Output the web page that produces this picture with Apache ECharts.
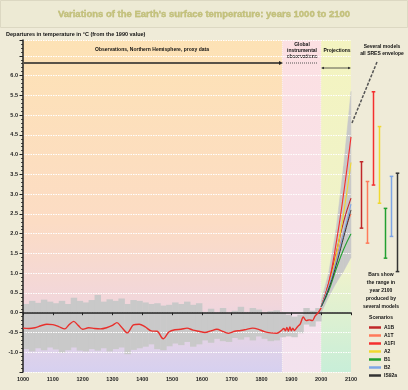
<!DOCTYPE html>
<html><head><meta charset="utf-8">
<script src="https://cdn.jsdelivr.net/npm/echarts@6/dist/echarts.min.js"></script>
<style>html,body{margin:0;padding:0;background:#efebd8}#c{width:408px;height:390px}</style>
</head><body><div id="c"></div>
<script>
// ---- data ----
const obsYears = [1000,1020,1040,1060,1080,1100,1120,1140,1155,1170,1185,1200,1220,1240,1260,1280,1300,1315,1330,1350,1370,1390,1410,1430,1450,1470,1490,1510,1530,1550,1570,1590,1610,1630,1650,1670,1690,1710,1730,1750,1770,1790,1810,1830,1850,1865,1875,1880,1885,1890,1895,1900,1905,1910,1920,1930,1940,1950,1960,1970,1980,1990,2000];
const obsTemp = [-0.39,-0.40,-0.38,-0.33,-0.29,-0.30,-0.35,-0.41,-0.30,-0.22,-0.32,-0.42,-0.38,-0.40,-0.41,-0.38,-0.32,-0.25,-0.36,-0.51,-0.31,-0.29,-0.36,-0.46,-0.47,-0.66,-0.48,-0.43,-0.42,-0.39,-0.44,-0.47,-0.50,-0.46,-0.42,-0.47,-0.52,-0.47,-0.45,-0.42,-0.39,-0.42,-0.48,-0.51,-0.52,-0.46,-0.40,-0.46,-0.37,-0.47,-0.36,-0.46,-0.39,-0.45,-0.36,-0.28,-0.11,-0.20,-0.18,-0.20,-0.08,0.00,0.12];

const uncYears = [1000,1020,1040,1060,1080,1100,1120,1140,1160,1180,1200,1220,1240,1260,1280,1300,1320,1340,1360,1380,1400,1420,1440,1460,1480,1500,1520,1540,1560,1580,1600,1620,1640,1660,1680,1700,1720,1740,1760,1780,1800,1820,1840,1860,1880,1900,1920,1940,1960,1980,2000];
const uncUpper = [0.22,0.30,0.25,0.33,0.28,0.24,0.30,0.22,0.38,0.30,0.26,0.32,0.45,0.28,0.34,0.30,0.36,0.22,0.32,0.30,0.26,0.22,0.24,0.18,0.20,0.26,0.22,0.28,0.20,0.24,0.02,0.10,0.00,0.12,-0.02,0.05,0.15,0.02,0.12,0.08,-0.02,0.04,0.06,0.00,-0.05,-0.10,-0.05,0.12,0.05,0.12,0.30];
const uncLower = [-0.92,-0.98,-0.90,-0.95,-0.88,-0.93,-1.02,-0.95,-0.88,-0.96,-0.98,-0.92,-0.96,-0.90,-0.98,-0.92,-0.88,-1.05,-0.94,-0.90,-0.86,-0.80,-0.92,-0.95,-0.85,-0.78,-0.82,-0.74,-0.86,-0.80,-0.70,-0.76,-0.66,-0.72,-0.74,-0.64,-0.68,-0.62,-0.70,-0.60,-0.66,-0.72,-0.70,-0.62,-0.60,-0.62,-0.52,-0.30,-0.35,-0.22,-0.05];

const projYears = [2000,2025,2050,2075,2100];
const envUpper = [0.30,1.00,2.10,3.70,5.60];
const envLower = [0.00,0.40,0.75,1.05,1.40];
const scenarioNames = ['A1B','A1T','A1FI','A2','B1','B2','IS92a'];
const scenarioColors = ['#c0282a','#ff7a5a','#f42f2f','#f0d830','#22a030','#7ea6e6','#333333'];
const scenA1B  = [0.15,0.75,1.50,2.30,2.90];
const scenA1T  = [0.15,0.70,1.35,2.00,2.50];
const scenA1FI = [0.15,0.75,1.75,3.00,4.45];
const scenA2   = [0.15,0.65,1.45,2.50,3.80];
const scenB1   = [0.15,0.55,1.10,1.60,2.00];
const scenB2   = [0.15,0.65,1.30,2.00,2.75];
const scenIS92a= [0.15,0.60,1.20,1.90,2.60];
const scenarioValues = [scenA1B,scenA1T,scenA1FI,scenA2,scenB1,scenB2,scenIS92a];

const barLow  = [2.14,1.76,3.23,2.77,1.38,1.93,1.04];
const barHigh = [3.82,3.32,5.59,4.71,2.64,3.45,3.53];

const bandFrom = [1000,1870,2000];
const bandTo   = [1870,2000,2100];

const xTicks = [1000,1100,1200,1300,1400,1500,1600,1700,1800,1900,2000,2100];

// ---- chart ----
const Y_MIN = -1.5, Y_MAX = 6.9;
const FONT = 'Liberation Sans';
const chart = echarts.init(document.getElementById('c'));
const zip = (xs, ys) => xs.map((x, i) => [x, ys[i]]);

const bandFills = [
  new echarts.graphic.LinearGradient(0,0,0,1,[{offset:0,color:'#fde2b5'},{offset:0.55,color:'#fcdcc4'},{offset:0.8,color:'#f1d6dc'},{offset:1,color:'#d6d0f0'}]),
  new echarts.graphic.LinearGradient(0,0,0,1,[{offset:0,color:'#fce0e2'},{offset:1,color:'#f3e2ee'}]),
  new echarts.graphic.LinearGradient(0,0,0,1,[{offset:0,color:'#f4f4c0'},{offset:0.7,color:'#eef2cc'},{offset:1,color:'#c8eed8'}])
];

const series = [];
series.push({
  type: 'custom', z: -10, silent: true,
  data: bandFrom.map((f, i) => [f, bandTo[i]]),
  encode: { x: [0, 1] },
  renderItem: (params, api) => {
    const p0 = api.coord([api.value(0), Y_MAX]);
    const p1 = api.coord([api.value(1), Y_MIN]);
    const children = [{ type: 'rect', shape: { x: p0[0], y: p0[1], width: p1[0] - p0[0], height: p1[1] - p0[1] }, style: { fill: bandFills[params.dataIndex] } }];
    if (params.dataIndex < 2) {
      children.push({ type: 'line', shape: { x1: p1[0], y1: p0[1], x2: p1[0], y2: p1[1] }, style: { stroke: '#ffffff', lineWidth: 1, lineDash: [1, 1] } });
    }
    return { type: 'group', children };
  }
});
// uncertainty band (observations): blocky steps
const uncData = uncYears.slice(0, -1).map((y, i) => [y, uncYears[i + 1], uncLower[i], uncUpper[i]]);
series.push({
  type: 'custom', z: -5, silent: true, data: uncData, encode: { x: [0, 1], y: [2, 3] },
  renderItem: (params, api) => {
    const a = api.coord([api.value(0), api.value(3)]);
    const b = api.coord([api.value(1), api.value(2)]);
    return { type: 'rect', shape: { x: a[0], y: a[1], width: b[0] - a[0] + 0.5, height: b[1] - a[1] }, style: { fill: '#c9c9c9' } };
  }
});
// projections envelope
const envData = projYears.slice(0, -1).map((y, i) => [y, projYears[i + 1], envLower[i], envUpper[i], envLower[i + 1], envUpper[i + 1]]);
series.push({
  type: 'custom', z: -5, silent: true, data: envData, encode: { x: [0, 1], y: [2, 3, 4, 5] },
  renderItem: (params, api) => {
    const x0 = api.value(0), x1 = api.value(1);
    const pts = [api.coord([x0, api.value(2)]), api.coord([x0, api.value(3)]), api.coord([x1, api.value(5)]), api.coord([x1, api.value(4)])];
    return { type: 'polygon', shape: { points: pts }, style: { fill: '#c9c9c9', stroke: '#c9c9c9', lineWidth: 0.5 } };
  }
});
// observed red line
series.push({ type: 'line', name: 'obs', symbol: 'none', smooth: 0.3, z: 3,
  lineStyle: { color: '#e8302c', width: 1.4 }, data: zip(obsYears, obsTemp) });
// scenarios
scenarioNames.forEach((n, i) => {
  series.push({ type: 'line', name: n, symbol: 'none', smooth: true, z: 4,
    lineStyle: { color: scenarioColors[i], width: n === 'IS92a' ? 1 : 1.1 },
    itemStyle: { color: scenarioColors[i] },
    data: zip(projYears, scenarioValues[i]) });
});
// bars of 2100 ranges
series.push({
  type: 'custom', xAxisIndex: 1, yAxisIndex: 1, z: 4, silent: true,
  data: scenarioNames.map((n, i) => [i, barLow[i], barHigh[i]]),
  encode: { x: 0, y: [1, 2] },
  renderItem: (params, api) => {
    const lo = api.coord([api.value(0), api.value(1)]);
    const hi = api.coord([api.value(0), api.value(2)]);
    const c = scenarioColors[params.dataIndex];
    const st = { stroke: c, lineWidth: 1.5 };
    return { type: 'group', children: [
      { type: 'line', shape: { x1: lo[0], y1: lo[1], x2: hi[0], y2: hi[1] }, style: st },
      { type: 'line', shape: { x1: lo[0] - 1.8, y1: lo[1], x2: lo[0] + 1.8, y2: lo[1] }, style: st },
      { type: 'line', shape: { x1: hi[0] - 1.8, y1: hi[1], x2: hi[0] + 1.8, y2: hi[1] }, style: st }
    ]};
  }
});

const smallTxt = (text, x, y, align) => ({ type: 'text', silent: true,
  style: { text, x, y, font: 'bold 5px ' + FONT, fill: '#111', align: align || 'center', verticalAlign: 'middle' } });

const option = {
  backgroundColor: '#efebd8',
  animation: false,
  grid: [
    { left: 23, right: 57, top: 40, bottom: 18 },
    { left: 358.5, width: 42, top: 40, bottom: 18 }
  ],
  xAxis: [
    { type: 'value', min: 1000, max: 2100, interval: 100,
      axisLine: { lineStyle: { color: '#222', width: 1.5 } },
      axisTick: { length: 2.5, lineStyle: { color: '#222' } },
      splitLine: { show: false },
      axisLabel: { fontFamily: FONT, fontSize: 5.5, fontWeight: 'bold', color: '#222', margin: 4,
        formatter: v => xTicks.indexOf(v) >= 0 ? String(v) : '' } },
    { type: 'category', gridIndex: 1, data: scenarioNames, show: false }
  ],
  yAxis: [
    { type: 'value', min: Y_MIN, max: Y_MAX, interval: 0.5,
      axisLine: { show: true, lineStyle: { color: '#222', width: 1.5 } },
      axisTick: { show: true, length: 3.5, lineStyle: { color: '#222', width: 1 } },
      minorTick: { show: true, splitNumber: 5, length: 2, lineStyle: { color: '#222', width: 0.8 } },
      splitLine: { show: true, lineStyle: { color: '#ffffff', width: 1, type: [1.5, 1] } },
      axisLabel: { fontFamily: FONT, fontSize: 5.5, fontWeight: 'bold', color: '#222', margin: 5,
        formatter: v => (v < -1.01 || v > 6.01) ? '' : v.toFixed(1) } },
    { type: 'value', gridIndex: 1, min: Y_MIN, max: Y_MAX, show: false }
  ],
  legend: {
    data: scenarioNames, orient: 'vertical', left: 369, top: 325,
    icon: 'rect', itemWidth: 12, itemHeight: 2.5, itemGap: 3,
    textStyle: { fontFamily: FONT, fontSize: 5, fontWeight: 'bold', color: '#111', lineHeight: 5, padding: [0,0,0,-2] },
    selectedMode: false, padding: 0
  },
  graphic: [
    { type: 'rect', silent: true, shape: { x: 0.5, y: 0.5, width: 407, height: 27 },
      style: { fill: '#edead4', stroke: '#dcd8c2', lineWidth: 1 } },
    { type: 'text', silent: true, style: { text: "Variations of the Earth's surface temperature: years 1000 to 2100",
      x: 204, y: 14, font: 'bold 9.5px ' + FONT, fill: '#c4c27a', stroke: '#a9a763', lineWidth: 0.3,
      align: 'center', verticalAlign: 'middle' } },
    { type: 'text', silent: true, style: { text: 'Departures in temperature in °C (from the 1990 value)',
      x: 6, y: 34, font: 'bold 5.5px ' + FONT, fill: '#111', align: 'left', verticalAlign: 'middle' } },
    smallTxt('Observations, Northern Hemisphere, proxy data', 152, 50),
    smallTxt('Global', 302, 45), smallTxt('instrumental', 302, 51), smallTxt('observations', 302, 57),
    smallTxt('Projections', 337, 51),
    smallTxt('Several models', 382, 47), smallTxt('all SRES envelope', 382, 53.5),
    smallTxt('Bars show', 381, 275), smallTxt('the range in', 381, 283), smallTxt('year 2100', 381, 291),
    smallTxt('produced by', 381, 299), smallTxt('several models', 381, 307),
    smallTxt('Scenarios', 381, 318),
    { type: 'line', silent: true, shape: { x1: 24, y1: 63, x2: 281, y2: 63 }, style: { stroke: '#222', lineWidth: 1.5 } },
    { type: 'polygon', silent: true, shape: { points: [[283, 63], [279, 61], [279, 65]] }, style: { fill: '#222' } },
    { type: 'line', silent: true, shape: { x1: 286, y1: 63, x2: 318, y2: 63 }, style: { stroke: '#555', lineWidth: 1, lineDash: [1, 1] } },
    { type: 'line', silent: true, shape: { x1: 322, y1: 68, x2: 350, y2: 68 }, style: { stroke: '#333', lineWidth: 0.8 } },
    { type: 'polygon', silent: true, shape: { points: [[321, 68], [324, 66.7], [324, 69.3]] }, style: { fill: '#333' } },
    { type: 'polygon', silent: true, shape: { points: [[351, 68], [348, 66.7], [348, 69.3]] }, style: { fill: '#333' } },
    { type: 'line', silent: true, z: 10, shape: { x1: 377, y1: 62, x2: 352, y2: 123 }, style: { stroke: '#555', lineWidth: 1.5, lineDash: [3, 1.5] } }
  ],
  series
};
chart.setOption(option);
</script></body></html>
